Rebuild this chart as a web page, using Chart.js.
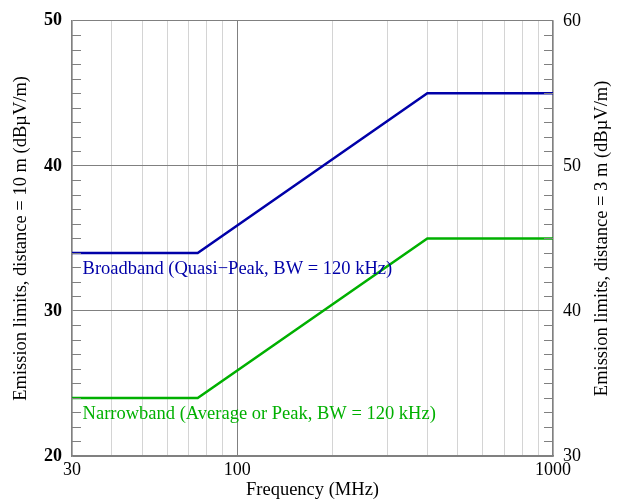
<!DOCTYPE html>
<html>
<head>
<meta charset="utf-8">
<script src="https://cdn.jsdelivr.net/npm/chart.js@4"></script>
<style>
html,body{margin:0;padding:0;background:#fff;}
#wrap{width:622px;height:499px;position:relative;}
</style>
</head>
<body>
<div id="wrap"><canvas id="c"></canvas></div>
<script>
// ---- data ----
const frequencies = [30, 75, 400, 1000];            // MHz
const broadbandLimits = [34, 34, 45, 45];           // dBµV/m at 10 m
const narrowbandLimits = [24, 24, 35, 35];          // dBµV/m at 10 m
const xTickValues = [30,40,50,60,70,80,90,100,200,300,400,500,600,700,800,900,1000];
const xTickLabels = {30:'30', 100:'100', 1000:'1000'};
const yLeftLabels = [20, 30, 40, 50];
const yRightLabels = [30, 40, 50, 60];
const seriesNames = ['Broadband (Quasi\u2212Peak, BW = 120 kHz)', 'Narrowband (Average or Peak, BW = 120 kHz)'];
const labelAnchors = [{x: 32.4, y: 32.9}, {x: 32.4, y: 22.9}];
const rightTitle = 'Emission limits, distance = 3 m (dB\u00b5V/m)';

const BLUE = '#0000a8';
const GREEN = '#00b000';
const FONT = "'Liberation Serif', 'Times New Roman', serif";
const TXT = 18.5;

const toPts = (xs, ys) => xs.map((x, i) => ({x, y: ys[i]}));

const extras = {
  id: 'extras',
  afterDatasetsDraw(chart) {
    const ctx = chart.ctx, a = chart.chartArea;
    const y = chart.scales.y;
    ctx.save();
    ctx.strokeStyle = '#808080';
    ctx.lineWidth = 1;
    for (let v = 21; v < 50; v++) {
      if (v % 10 === 0) continue;
      const py = Math.round(y.getPixelForValue(v)) + 0.5;
      ctx.beginPath();
      ctx.moveTo(a.left, py); ctx.lineTo(a.left + 9, py);
      ctx.moveTo(a.right, py); ctx.lineTo(a.right - 9, py);
      ctx.stroke();
    }
    // series labels
    ctx.font = TXT + 'px ' + FONT;
    ctx.textBaseline = 'middle';
    ctx.textAlign = 'left';
    const x = chart.scales.x;
    [BLUE, GREEN].forEach((col, i) => {
      ctx.fillStyle = col;
      ctx.fillText(seriesNames[i], x.getPixelForValue(labelAnchors[i].x), y.getPixelForValue(labelAnchors[i].y));
    });
    // right axis title, reading bottom-to-top
    const r = chart.scales.y2;
    ctx.translate(r.right - 20, (a.top + a.bottom) / 2);
    ctx.rotate(-Math.PI / 2);
    ctx.textAlign = 'center';
    ctx.fillStyle = '#000';
    ctx.fillText(rightTitle, 0, 0);
    ctx.restore();
  }
};

new Chart(document.getElementById('c'), {
  type: 'line',
  data: {
    datasets: [
      {label: seriesNames[0], data: toPts(frequencies, broadbandLimits), borderColor: BLUE, borderWidth: 2.5, pointRadius: 0, fill: false, tension: 0, yAxisID: 'y'},
      {label: seriesNames[1], data: toPts(frequencies, narrowbandLimits), borderColor: GREEN, borderWidth: 2.5, pointRadius: 0, fill: false, tension: 0, yAxisID: 'y'}
    ]
  },
  options: {
    responsive: true,
    maintainAspectRatio: false,
    animation: false,
    devicePixelRatio: 1,
    layout: {padding: {top: 20, left: 0, right: 0, bottom: 0}},
    plugins: {legend: {display: false}, tooltip: {enabled: false}},
    scales: {
      x: {
        type: 'logarithmic', min: 30, max: 1000,
        afterBuildTicks: s => { s.ticks = xTickValues.map(v => ({value: v})); },
        afterFit: s => { s.height = 43; },
        ticks: {
          autoSkip: false, maxRotation: 0, padding: 3, color: '#000',
          font: {family: FONT, size: 18},
          callback: v => xTickLabels[v] || ''
        },
        grid: {
          drawTicks: false,
          color: c => (c.tick && c.tick.value === 100) ? '#808080' : '#d4d4d4',
          lineWidth: 1
        },
        border: {display: true, color: '#808080', width: 1.5},
        title: {display: true, text: 'Frequency (MHz)', color: '#000', font: {family: FONT, size: TXT}, padding: {top: 0, bottom: -2}}
      },
      y: {
        type: 'linear', position: 'left', min: 20, max: 50,
        afterBuildTicks: s => { s.ticks = yLeftLabels.map(v => ({value: v})); },
        afterFit: s => { s.width = 72; },
        ticks: {color: '#000', padding: 10, font: {family: FONT, size: 18, weight: 'bold'}},
        grid: {drawTicks: false, color: '#808080', lineWidth: 1},
        border: {display: true, color: '#808080', width: 1.5},
        title: {display: true, text: 'Emission limits, distance = 10 m (dB\u00b5V/m)', color: '#000', font: {family: FONT, size: TXT}, padding: {top: 10, bottom: 0}}
      },
      y2: {
        type: 'linear', position: 'right', min: 30, max: 60,
        afterBuildTicks: s => { s.ticks = yRightLabels.map(v => ({value: v})); },
        afterFit: s => { s.width = 69; },
        ticks: {color: '#000', padding: 10, font: {family: FONT, size: 18}},
        grid: {drawTicks: false, drawOnChartArea: false},
        border: {display: true, color: '#808080', width: 1.5},
        title: {display: false}
      }
    }
  },
  plugins: [extras]
});
</script>
</body>
</html>
